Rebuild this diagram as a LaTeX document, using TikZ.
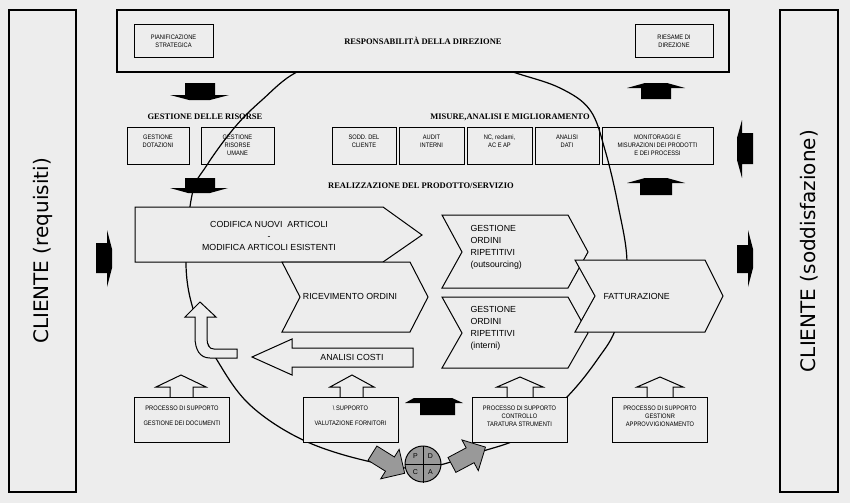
\documentclass[tikz,border=0pt]{standalone}
\usepackage{fontspec}
\setmainfont{Liberation Serif}
\newfontfamily\boxfont[FakeStretch=0.88]{Liberation Sans}
\newfontfamily\chevfont{Liberation Sans}
\newfontfamily\clifont{DejaVu Sans}
\usetikzlibrary{positioning, shapes.arrows}
\definecolor{bgcol}{gray}{0.93}

\begin{document}
\begin{tikzpicture}[
    x=1pt, y=-1pt, line width=1pt,
    frame/.style={draw, fill=bgcol, line width=1.2pt, inner sep=0pt},
    cliente/.style={frame, rotate=90, minimum width=482pt, font=\clifont\fontsize{20}{24}\selectfont},
    ttl/.style={font=\bfseries\fontsize{8.5}{10}\selectfont, inner sep=0pt},
    sbox/.style={draw, line width=1pt, inner sep=0pt, align=center, font=\boxfont\fontsize{6.5}{8}\selectfont},
    rbox/.style={sbox, minimum height=37pt},
    pbox/.style={sbox, fill=bgcol, minimum width=95pt, minimum height=45pt},
    chev/.style={draw, fill=bgcol, line width=1pt, line join=miter},
    ctxt/.style={font=\chevfont\fontsize{8.8}{12}\selectfont, inner sep=0pt},
    blk/.style={fill=black},
    hollow/.style={draw, fill=bgcol, line width=1pt, line join=miter},
    grayarrow/.style={single arrow, draw, fill=gray!80, line width=0.8pt, inner sep=8pt, minimum height=38pt, single arrow head extend=9pt}
]

% background
\fill[bgcol] (0,0) rectangle (850,503);

% the loop
\draw[line width=1.2pt] plot[smooth cycle, tension=0.6] coordinates {
  (410,50) (470,58) (516,73) (560,88) (590,110) (605,150) (618,205)
  (627,265) (617,325) (597,360) (567,397) (525,435) (480,452) (423,468)
  (367,461) (303,440) (250,405) (217,360) (195,315) (186,265) (192,195)
  (207,165) (235,127) (262,100) (297,72) (350,55)};

% Responsabilita della direzione
\node[frame, minimum width=612pt, minimum height=62pt, font=\bfseries\fontsize{8.5}{10}\selectfont] (resp) at (423,41) {RESPONSABILITÀ DELLA DIREZIONE};
\node[sbox, fill=bgcol, minimum width=79pt, minimum height=32pt] (pian) at (173.5,41) {PIANIFICAZIONE\\STRATEGICA};
\node[sbox, fill=bgcol, minimum width=78pt, minimum height=32pt] (ries) at (674,41) {RIESAME DI\\DIREZIONE};

% black arrows
\fill[blk] (185,83) -- (215,83) -- (215,95) -- (229,95) -- (210,100) -- (189,100) -- (170,95) -- (185,95) -- cycle;
\fill[blk] (185,178) -- (215,178) -- (215,188) -- (228,188) -- (210,193) -- (188,193) -- (170,188) -- (185,188) -- cycle;
\fill[blk] (641,99) -- (671,99) -- (671,88) -- (685,88) -- (667,83) -- (645,83) -- (627,88) -- (641,88) -- cycle;
\fill[blk] (640,195) -- (672,195) -- (672,183) -- (685,183) -- (667,178) -- (645,178) -- (627,183) -- (640,183) -- cycle;
\fill[blk] (753,133) -- (753,164) -- (742,164) -- (742,178) -- (737,160) -- (737,138) -- (742,120) -- (742,133) -- cycle;
\fill[blk] (737,245) -- (737,273) -- (748,273) -- (748,287) -- (753,268) -- (753,249) -- (748,230) -- (748,245) -- cycle;
\fill[blk] (96,243) -- (96,273) -- (107,273) -- (107,287) -- (112,268) -- (112,249) -- (107,230) -- (107,243) -- cycle;
\fill[blk] (420,415) -- (455,415) -- (455,403) -- (463,403) -- (452,398) -- (414,398) -- (405,403) -- (420,403) -- cycle;

% Gestione delle risorse
\node[ttl] (tris) at (205,117) {GESTIONE DELLE RISORSE};
\node[rbox, minimum width=62pt] (dot) at (158,145.5) {GESTIONE\\DOTAZIONI\\~};
\node[rbox, minimum width=73pt, right=11pt of dot] (umane) {GESTIONE\\RISORSE\\UMANE};

% Misure, analisi e miglioramento
\node[ttl] (tmis) at (510,117) {MISURE,ANALISI E MIGLIORAMENTO};
\node[rbox, minimum width=64pt] (sodd) at (364,145.5) {SODD. DEL\\CLIENTE\\~};
\node[rbox, minimum width=65pt, right=2pt of sodd] (audit) {AUDIT\\INTERNI\\~};
\node[rbox, minimum width=65pt, right=2pt of audit] (nc) {NC, reclami,\\AC E AP\\~};
\node[rbox, minimum width=64pt, right=2pt of nc] (dati) {ANALISI\\DATI\\~};
\node[rbox, minimum width=111pt, right=2pt of dati] (monit) {MONITORAGGI E\\MISURAZIONI DEI PRODOTTI\\E DEI PROCESSI};

% Realizzazione del prodotto/servizio
\node[ttl] (treal) at (421,186) {REALIZZAZIONE DEL PRODOTTO/SERVIZIO};

\draw[chev] (135,207) -- (383,207) -- (422,235) -- (383,262) -- (135,262) -- cycle;
\node[ctxt, align=center, font=\chevfont\fontsize{8.8}{11.5}\selectfont] (codifica) at (269,236) {CODIFICA NUOVI\ \ ARTICOLI\\-\\MODIFICA ARTICOLI ESISTENTI};

\draw[chev] (282,262) -- (410,262) -- (428,297) -- (410,332) -- (282,332) -- (300,297) -- cycle;
\node[ctxt] (ricev) at (350,296) {RICEVIMENTO ORDINI};

\draw[chev] (442,215) -- (568,215) -- (588,252) -- (568,288) -- (442,288) -- (462,252) -- cycle;
\node[ctxt, align=left, anchor=west] (outs) at (470,247) {GESTIONE\\ORDINI\\RIPETITIVI\\(outsourcing)};

\draw[chev] (442,297) -- (568,297) -- (588,333) -- (568,368) -- (442,368) -- (462,333) -- cycle;
\node[ctxt, align=left, anchor=west] (inter) at (470,328) {GESTIONE\\ORDINI\\RIPETITIVI\\(interni)};

\draw[chev] (575,260) -- (705,260) -- (723,296) -- (705,332) -- (575,332) -- (595,296) -- cycle;
\node[ctxt, anchor=west] (fatt) at (603,296) {FATTURAZIONE};

% analisi costi and return arrow
\draw[hollow] (413,348) -- (292,348) -- (292,339) -- (252,357) -- (292,375) -- (292,367) -- (413,367) -- cycle;
\node[ctxt] (costi) at (352,357.5) {ANALISI COSTI};
\draw[hollow] (207,317) -- (216,317) -- (200,302) -- (185,317) -- (195,317) -- (195,337)
  .. controls (195,350) and (200,358) .. (210,358) -- (237,358) -- (237,349) -- (214,349)
  .. controls (209,349) and (207,345) .. (207,338) -- cycle;

% processi di supporto
\draw[hollow] (170,398) -- (170,387) -- (156,387) -- (181,375) -- (206,387) -- (193,387) -- (193,398) -- cycle;
\draw[hollow] (340,398) -- (340,387) -- (330,387) -- (352,375) -- (374,387) -- (363,387) -- (363,398) -- cycle;
\draw[hollow] (507,398) -- (507,387) -- (497,387) -- (520,377) -- (543,387) -- (533,387) -- (533,398) -- cycle;
\draw[hollow] (647,398) -- (647,387) -- (637,387) -- (660,377) -- (683,387) -- (673,387) -- (673,398) -- cycle;

\node[pbox] (doc) at (182,419.5) {PROCESSO DI SUPPORTO\\[7pt]GESTIONE DEI DOCUMENTI\\~};
\node[pbox] (forn) at (350.5,419.5) {\textbackslash{} SUPPORTO\\[7pt]VALUTAZIONE FORNITORI\\~};
\node[pbox] (tara) at (519.5,420) {PROCESSO DI SUPPORTO\\CONTROLLO\\TARATURA STRUMENTI\\~};
\node[pbox] (appr) at (660,420) {PROCESSO DI SUPPORTO\\GESTIONR\\APPROVVIGIONAMENTO\\~};

% PDCA
\node[grayarrow, rotate=-32] (gin) at (385,461) {};
\node[grayarrow, rotate=28] (gout) at (465,458) {};
\node[circle, draw, fill=gray!80, minimum size=36pt, inner sep=0pt] (pdca) at (423,464) {};
\draw (pdca.north) -- (pdca.south);
\draw (pdca.west) -- (pdca.east);
\node[font=\chevfont\fontsize{7}{8}\selectfont, inner sep=0pt] (pp) at (415.5,456) {P};
\node[font=\chevfont\fontsize{7}{8}\selectfont, inner sep=0pt] (pd) at (430.5,456) {D};
\node[font=\chevfont\fontsize{7}{8}\selectfont, inner sep=0pt] (pc) at (415.5,472) {C};
\node[font=\chevfont\fontsize{7}{8}\selectfont, inner sep=0pt] (pa) at (430.5,472) {A};

% Cliente
\node[cliente, minimum height=67pt] (req) at (42.5,251) {CLIENTE (requisiti)};
\node[cliente, minimum height=58pt] (sodd2) at (809,251) {CLIENTE (soddisfazione)};

\end{tikzpicture}
\end{document}
